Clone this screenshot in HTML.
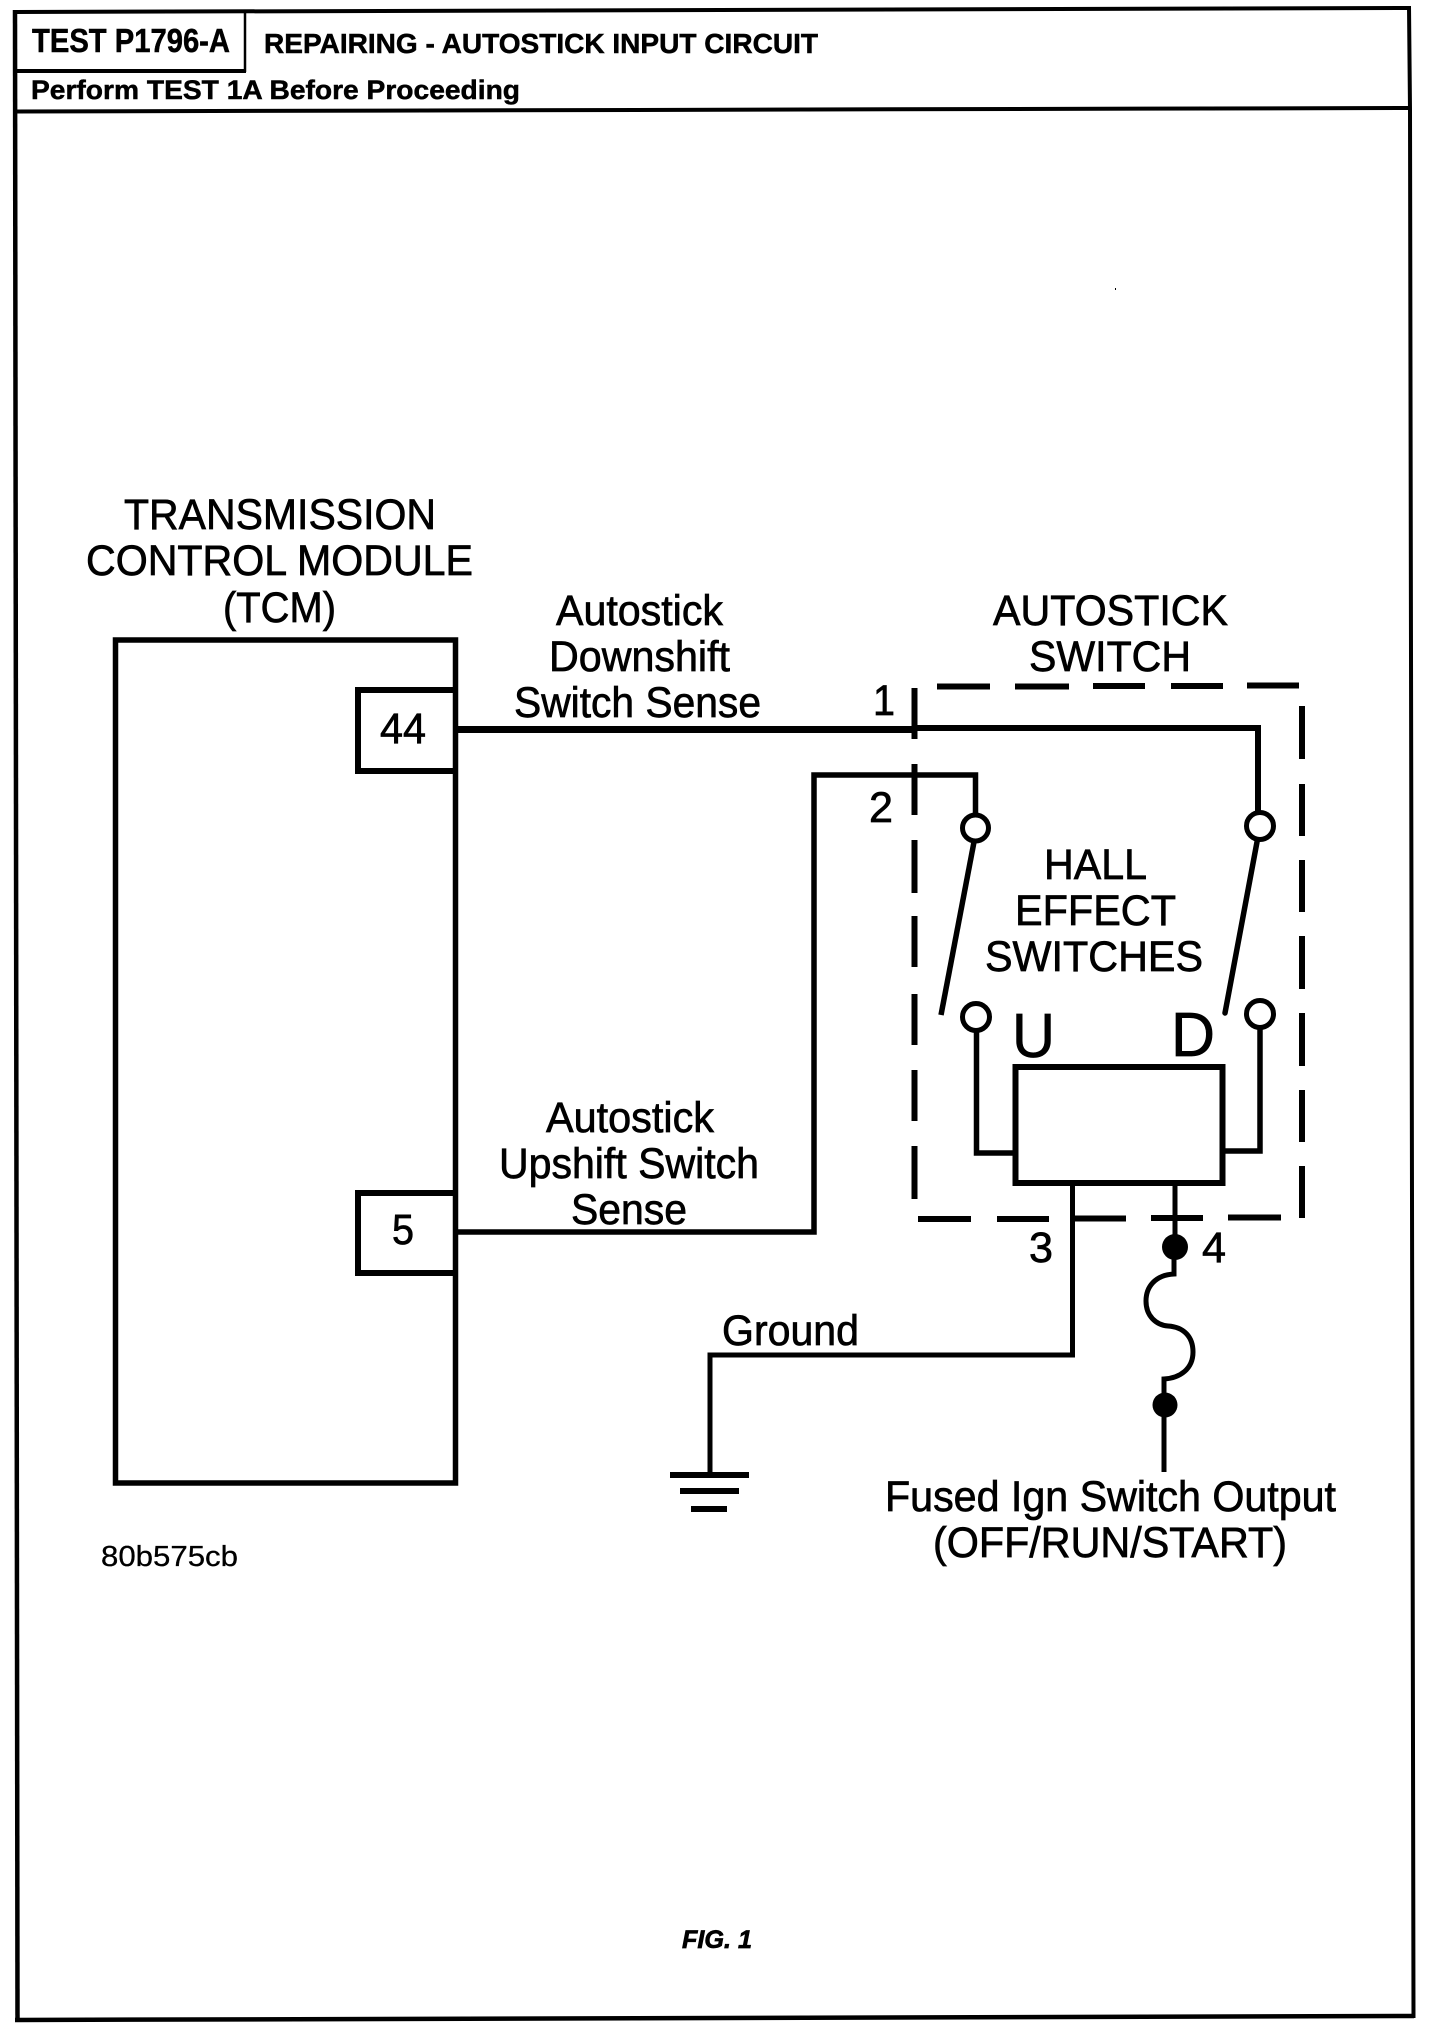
<!DOCTYPE html>
<html>
<head>
<meta charset="utf-8">
<style>
html,body{margin:0;padding:0;background:#fff;}
svg{display:block;}
text{font-family:"Liberation Sans",Arial,sans-serif;fill:#000;stroke:#000;stroke-width:.7;}
.h{font-weight:bold;stroke-width:.5;}
</style>
</head>
<body>
<svg width="1456" height="2030" viewBox="0 0 1456 2030" xmlns="http://www.w3.org/2000/svg">
<rect width="1456" height="2030" fill="#fff"/>
<g fill="none" stroke="#000" stroke-linecap="butt">
  <!-- page frame -->
  <path d="M15 12 L1411 8" stroke-width="4"/>
  <path d="M15 10 L17.5 2022" stroke-width="4.5"/>
  <path d="M1409 6 L1410 110 L1413.5 2018" stroke-width="4"/>
  <path d="M15 2020 L1414 2016" stroke-width="4.5"/>
  <path d="M15 111.5 L1410 108" stroke-width="4"/>
  <path d="M15 71 H246" stroke-width="4"/>
  <path d="M245 11 V72" stroke-width="2.5"/>

  <!-- TCM -->
  <rect x="115.5" y="640" width="340" height="843" stroke-width="5.5"/>
  <path d="M455.5 690 H358 V771 H455.5" stroke-width="6"/>
  <path d="M455.5 1193 H358 V1273 H455.5" stroke-width="6"/>

  <!-- wires -->
  <path d="M458 729.5 H915" stroke-width="7"/>
  <path d="M915 728 H1258 V815" stroke-width="6"/>
  <path d="M458 1232 H814 V775 H975.5 V815" stroke-width="5.5"/>

  <!-- dashed switch housing -->
  <g stroke-width="6">
    <path d="M937 686.5 H990 M1015 686.5 H1069 M1093 686 H1145 M1171 686 H1223 M1247 685.5 H1299"/>
    <path d="M914.5 688 V739 M914.5 764 V815 M914.5 840 V893 M914.5 916 V967 M914.5 994 V1045 M914.5 1070 V1121 M914.5 1146 V1199"/>
    <path d="M1302 706 V759 M1302 784 V836 M1302 860 V912 M1302 936 V989 M1302 1013 V1066 M1302 1090 V1142 M1302 1166 V1218"/>
    <path d="M918 1219 H971 M997 1219 H1049 M1074 1218.5 H1126 M1151 1218 H1203 M1228 1217.5 H1281"/>
  </g>

  <!-- switch terminals -->
  <circle cx="975.5" cy="828" r="13" stroke-width="5"/>
  <circle cx="1260" cy="826" r="13.5" stroke-width="5"/>
  <circle cx="976" cy="1017" r="13.5" stroke-width="5"/>
  <circle cx="1260" cy="1014" r="13.5" stroke-width="5"/>
  <path d="M974 842 L941 1015" stroke-width="5.5"/>
  <path d="M1257 842 L1225 1013" stroke-width="5.5" stroke-linecap="round"/>
  <path d="M976.5 1030 V1153 H1015" stroke-width="5.5"/>
  <path d="M1260 1027 V1151 H1222" stroke-width="5.5"/>

  <!-- module -->
  <rect x="1015.5" y="1067" width="207" height="116" stroke-width="6"/>

  <!-- ground wire -->
  <path d="M1072.5 1186 V1355 H710 V1474" stroke-width="5"/>
  <path d="M670 1475 H749 M680 1491 H739 M691 1509 H727" stroke-width="6"/>

  <!-- fuse -->
  <path d="M1175 1186 V1247" stroke-width="5"/>
  <path d="M1174 1255 V1274 C1155 1275 1146 1287 1146 1301 C1146 1316 1156 1325 1168 1326 C1184 1327 1193 1337 1193 1352 C1193 1369 1180 1378 1164 1379 V1405" stroke-width="5"/>
  <path d="M1164 1405 V1472" stroke-width="5"/>
</g>
<circle cx="1175" cy="1247" r="13" fill="#000"/>
<circle cx="1165" cy="1405" r="12.5" fill="#000"/>
<rect x="1115" y="288" width="1" height="2" fill="#000"/>

<!-- header -->
<text class="h" x="32" y="52" font-size="33" textLength="198" lengthAdjust="spacingAndGlyphs">TEST P1796-A</text>
<text class="h" x="264" y="53" font-size="28" textLength="554" lengthAdjust="spacingAndGlyphs">REPAIRING - AUTOSTICK INPUT CIRCUIT</text>
<text class="h" x="31" y="99" font-size="27" textLength="489" lengthAdjust="spacingAndGlyphs">Perform TEST 1A Before Proceeding</text>

<!-- TCM labels -->
<text x="124" y="529" font-size="43" textLength="312" lengthAdjust="spacingAndGlyphs">TRANSMISSION</text>
<text x="86" y="575" font-size="43" textLength="387" lengthAdjust="spacingAndGlyphs">CONTROL MODULE</text>
<text x="223" y="622" font-size="43" textLength="113" lengthAdjust="spacingAndGlyphs">(TCM)</text>
<text x="380" y="743" font-size="43" textLength="46" lengthAdjust="spacingAndGlyphs">44</text>
<text x="392" y="1244" font-size="43" textLength="22" lengthAdjust="spacingAndGlyphs">5</text>

<!-- wire labels -->
<text x="556" y="625" font-size="43" textLength="167" lengthAdjust="spacingAndGlyphs">Autostick</text>
<text x="549" y="671" font-size="43" textLength="181" lengthAdjust="spacingAndGlyphs">Downshift</text>
<text x="514" y="717" font-size="43" textLength="247" lengthAdjust="spacingAndGlyphs">Switch Sense</text>
<text x="546" y="1132" font-size="43" textLength="168" lengthAdjust="spacingAndGlyphs">Autostick</text>
<text x="499" y="1178" font-size="43" textLength="260" lengthAdjust="spacingAndGlyphs">Upshift Switch</text>
<text x="571" y="1224" font-size="43" textLength="116" lengthAdjust="spacingAndGlyphs">Sense</text>
<text x="722" y="1345" font-size="43" textLength="137" lengthAdjust="spacingAndGlyphs">Ground</text>

<!-- switch labels -->
<text x="993" y="625" font-size="43" textLength="235" lengthAdjust="spacingAndGlyphs">AUTOSTICK</text>
<text x="1029" y="671" font-size="43" textLength="162" lengthAdjust="spacingAndGlyphs">SWITCH</text>
<text x="1044" y="879" font-size="43" textLength="103" lengthAdjust="spacingAndGlyphs">HALL</text>
<text x="1015" y="925" font-size="43" textLength="161" lengthAdjust="spacingAndGlyphs">EFFECT</text>
<text x="985" y="971" font-size="43" textLength="218" lengthAdjust="spacingAndGlyphs">SWITCHES</text>
<text x="1012" y="1057" font-size="62" textLength="43" lengthAdjust="spacingAndGlyphs">U</text>
<text x="1171" y="1056" font-size="62" textLength="44" lengthAdjust="spacingAndGlyphs">D</text>

<!-- pin numbers -->
<text x="873" y="715" font-size="43" textLength="22" lengthAdjust="spacingAndGlyphs">1</text>
<text x="869" y="822" font-size="43" textLength="24" lengthAdjust="spacingAndGlyphs">2</text>
<text x="1029" y="1262" font-size="43" textLength="24" lengthAdjust="spacingAndGlyphs">3</text>
<text x="1202" y="1262" font-size="43" textLength="24" lengthAdjust="spacingAndGlyphs">4</text>

<!-- output label -->
<text x="885" y="1511" font-size="43" textLength="451" lengthAdjust="spacingAndGlyphs">Fused Ign Switch Output</text>
<text x="933" y="1557" font-size="43" textLength="354" lengthAdjust="spacingAndGlyphs">(OFF/RUN/START)</text>

<!-- footers -->
<text x="101" y="1566" font-size="29" textLength="137" lengthAdjust="spacingAndGlyphs" style="stroke-width:.3">80b575cb</text>
<text x="682" y="1948" font-size="25" font-weight="bold" font-style="italic" textLength="70" lengthAdjust="spacingAndGlyphs">FIG. 1</text>
</svg>
</body>
</html>
